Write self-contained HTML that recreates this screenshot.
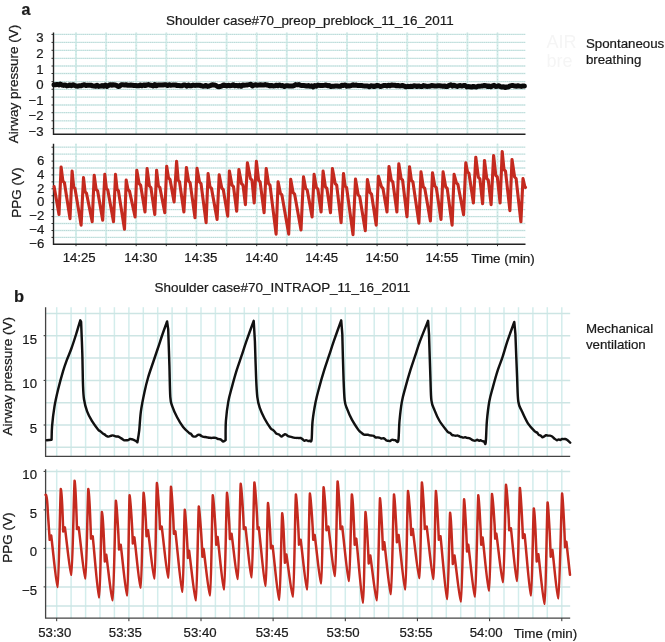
<!DOCTYPE html>
<html><head><meta charset="utf-8"><style>html,body{margin:0;padding:0;background:#fff;width:665px;height:642px;overflow:hidden}body{position:relative;font-family:"Liberation Sans",sans-serif} svg text{stroke:#1a1a1a;stroke-width:0.22px} svg text.g{stroke:none}</style></head>
<body>
<svg width="665" height="642" viewBox="0 0 665 642" style="position:absolute;left:0;top:0;filter:blur(0.3px);font-family:'Liberation Sans',sans-serif" font-family="'Liberation Sans', sans-serif" fill="#1a1a1a">
<line x1="76.0" y1="32.6" x2="76.0" y2="134.2" stroke="#d5efec" stroke-width="2"/>
<line x1="76.0" y1="32.6" x2="76.0" y2="134.2" stroke="#9ab0b0" stroke-width="0.9" stroke-dasharray="0.9 2.2" opacity="0.4"/>
<line x1="106.1" y1="32.6" x2="106.1" y2="134.2" stroke="#d5efec" stroke-width="2"/>
<line x1="106.1" y1="32.6" x2="106.1" y2="134.2" stroke="#9ab0b0" stroke-width="0.9" stroke-dasharray="0.9 2.2" opacity="0.4"/>
<line x1="136.2" y1="32.6" x2="136.2" y2="134.2" stroke="#d5efec" stroke-width="2"/>
<line x1="136.2" y1="32.6" x2="136.2" y2="134.2" stroke="#9ab0b0" stroke-width="0.9" stroke-dasharray="0.9 2.2" opacity="0.4"/>
<line x1="166.3" y1="32.6" x2="166.3" y2="134.2" stroke="#d5efec" stroke-width="2"/>
<line x1="166.3" y1="32.6" x2="166.3" y2="134.2" stroke="#9ab0b0" stroke-width="0.9" stroke-dasharray="0.9 2.2" opacity="0.4"/>
<line x1="196.4" y1="32.6" x2="196.4" y2="134.2" stroke="#d5efec" stroke-width="2"/>
<line x1="196.4" y1="32.6" x2="196.4" y2="134.2" stroke="#9ab0b0" stroke-width="0.9" stroke-dasharray="0.9 2.2" opacity="0.4"/>
<line x1="226.6" y1="32.6" x2="226.6" y2="134.2" stroke="#d5efec" stroke-width="2"/>
<line x1="226.6" y1="32.6" x2="226.6" y2="134.2" stroke="#9ab0b0" stroke-width="0.9" stroke-dasharray="0.9 2.2" opacity="0.4"/>
<line x1="256.7" y1="32.6" x2="256.7" y2="134.2" stroke="#d5efec" stroke-width="2"/>
<line x1="256.7" y1="32.6" x2="256.7" y2="134.2" stroke="#9ab0b0" stroke-width="0.9" stroke-dasharray="0.9 2.2" opacity="0.4"/>
<line x1="286.8" y1="32.6" x2="286.8" y2="134.2" stroke="#d5efec" stroke-width="2"/>
<line x1="286.8" y1="32.6" x2="286.8" y2="134.2" stroke="#9ab0b0" stroke-width="0.9" stroke-dasharray="0.9 2.2" opacity="0.4"/>
<line x1="316.9" y1="32.6" x2="316.9" y2="134.2" stroke="#d5efec" stroke-width="2"/>
<line x1="316.9" y1="32.6" x2="316.9" y2="134.2" stroke="#9ab0b0" stroke-width="0.9" stroke-dasharray="0.9 2.2" opacity="0.4"/>
<line x1="347.0" y1="32.6" x2="347.0" y2="134.2" stroke="#d5efec" stroke-width="2"/>
<line x1="347.0" y1="32.6" x2="347.0" y2="134.2" stroke="#9ab0b0" stroke-width="0.9" stroke-dasharray="0.9 2.2" opacity="0.4"/>
<line x1="377.1" y1="32.6" x2="377.1" y2="134.2" stroke="#d5efec" stroke-width="2"/>
<line x1="377.1" y1="32.6" x2="377.1" y2="134.2" stroke="#9ab0b0" stroke-width="0.9" stroke-dasharray="0.9 2.2" opacity="0.4"/>
<line x1="407.2" y1="32.6" x2="407.2" y2="134.2" stroke="#d5efec" stroke-width="2"/>
<line x1="407.2" y1="32.6" x2="407.2" y2="134.2" stroke="#9ab0b0" stroke-width="0.9" stroke-dasharray="0.9 2.2" opacity="0.4"/>
<line x1="437.3" y1="32.6" x2="437.3" y2="134.2" stroke="#d5efec" stroke-width="2"/>
<line x1="437.3" y1="32.6" x2="437.3" y2="134.2" stroke="#9ab0b0" stroke-width="0.9" stroke-dasharray="0.9 2.2" opacity="0.4"/>
<line x1="467.4" y1="32.6" x2="467.4" y2="134.2" stroke="#d5efec" stroke-width="2"/>
<line x1="467.4" y1="32.6" x2="467.4" y2="134.2" stroke="#9ab0b0" stroke-width="0.9" stroke-dasharray="0.9 2.2" opacity="0.4"/>
<line x1="497.5" y1="32.6" x2="497.5" y2="134.2" stroke="#d5efec" stroke-width="2"/>
<line x1="497.5" y1="32.6" x2="497.5" y2="134.2" stroke="#9ab0b0" stroke-width="0.9" stroke-dasharray="0.9 2.2" opacity="0.4"/>
<line x1="53.5" y1="34.4" x2="525.5" y2="34.4" stroke="#d2edeb" stroke-width="1.3"/>
<line x1="55.5" y1="34.4" x2="525.5" y2="34.4" stroke="#90a8a8" stroke-width="0.9" stroke-dasharray="1 1.1" opacity="0.38"/>
<line x1="51.5" y1="34.4" x2="53.5" y2="34.4" stroke="#333" stroke-width="1"/>
<line x1="53.5" y1="42.4" x2="525.5" y2="42.4" stroke="#d2edeb" stroke-width="1.3"/>
<line x1="55.5" y1="42.4" x2="525.5" y2="42.4" stroke="#90a8a8" stroke-width="0.9" stroke-dasharray="1 1.1" opacity="0.38"/>
<line x1="51.5" y1="42.4" x2="53.5" y2="42.4" stroke="#333" stroke-width="1"/>
<line x1="53.5" y1="50.3" x2="525.5" y2="50.3" stroke="#d2edeb" stroke-width="1.3"/>
<line x1="55.5" y1="50.3" x2="525.5" y2="50.3" stroke="#90a8a8" stroke-width="0.9" stroke-dasharray="1 1.1" opacity="0.38"/>
<line x1="51.5" y1="50.3" x2="53.5" y2="50.3" stroke="#333" stroke-width="1"/>
<line x1="53.5" y1="58.3" x2="525.5" y2="58.3" stroke="#d2edeb" stroke-width="1.3"/>
<line x1="55.5" y1="58.3" x2="525.5" y2="58.3" stroke="#90a8a8" stroke-width="0.9" stroke-dasharray="1 1.1" opacity="0.38"/>
<line x1="51.5" y1="58.3" x2="53.5" y2="58.3" stroke="#333" stroke-width="1"/>
<line x1="53.5" y1="66.0" x2="525.5" y2="66.0" stroke="#d2edeb" stroke-width="1.3"/>
<line x1="55.5" y1="66.0" x2="525.5" y2="66.0" stroke="#90a8a8" stroke-width="0.9" stroke-dasharray="1 1.1" opacity="0.38"/>
<line x1="51.5" y1="66.0" x2="53.5" y2="66.0" stroke="#333" stroke-width="1"/>
<line x1="53.5" y1="73.5" x2="525.5" y2="73.5" stroke="#d2edeb" stroke-width="1.3"/>
<line x1="55.5" y1="73.5" x2="525.5" y2="73.5" stroke="#90a8a8" stroke-width="0.9" stroke-dasharray="1 1.1" opacity="0.38"/>
<line x1="51.5" y1="73.5" x2="53.5" y2="73.5" stroke="#333" stroke-width="1"/>
<line x1="53.5" y1="81.6" x2="525.5" y2="81.6" stroke="#d2edeb" stroke-width="1.3"/>
<line x1="55.5" y1="81.6" x2="525.5" y2="81.6" stroke="#90a8a8" stroke-width="0.9" stroke-dasharray="1 1.1" opacity="0.38"/>
<line x1="51.5" y1="81.6" x2="53.5" y2="81.6" stroke="#333" stroke-width="1"/>
<line x1="53.5" y1="89.3" x2="525.5" y2="89.3" stroke="#d2edeb" stroke-width="1.3"/>
<line x1="55.5" y1="89.3" x2="525.5" y2="89.3" stroke="#90a8a8" stroke-width="0.9" stroke-dasharray="1 1.1" opacity="0.38"/>
<line x1="51.5" y1="89.3" x2="53.5" y2="89.3" stroke="#333" stroke-width="1"/>
<line x1="53.5" y1="97.1" x2="525.5" y2="97.1" stroke="#d2edeb" stroke-width="1.3"/>
<line x1="55.5" y1="97.1" x2="525.5" y2="97.1" stroke="#90a8a8" stroke-width="0.9" stroke-dasharray="1 1.1" opacity="0.38"/>
<line x1="51.5" y1="97.1" x2="53.5" y2="97.1" stroke="#333" stroke-width="1"/>
<line x1="53.5" y1="105.0" x2="525.5" y2="105.0" stroke="#d2edeb" stroke-width="1.3"/>
<line x1="55.5" y1="105.0" x2="525.5" y2="105.0" stroke="#90a8a8" stroke-width="0.9" stroke-dasharray="1 1.1" opacity="0.38"/>
<line x1="51.5" y1="105.0" x2="53.5" y2="105.0" stroke="#333" stroke-width="1"/>
<line x1="53.5" y1="112.7" x2="525.5" y2="112.7" stroke="#d2edeb" stroke-width="1.3"/>
<line x1="55.5" y1="112.7" x2="525.5" y2="112.7" stroke="#90a8a8" stroke-width="0.9" stroke-dasharray="1 1.1" opacity="0.38"/>
<line x1="51.5" y1="112.7" x2="53.5" y2="112.7" stroke="#333" stroke-width="1"/>
<line x1="53.5" y1="120.8" x2="525.5" y2="120.8" stroke="#d2edeb" stroke-width="1.3"/>
<line x1="55.5" y1="120.8" x2="525.5" y2="120.8" stroke="#90a8a8" stroke-width="0.9" stroke-dasharray="1 1.1" opacity="0.38"/>
<line x1="51.5" y1="120.8" x2="53.5" y2="120.8" stroke="#333" stroke-width="1"/>
<line x1="53.5" y1="128.6" x2="525.5" y2="128.6" stroke="#d2edeb" stroke-width="1.3"/>
<line x1="55.5" y1="128.6" x2="525.5" y2="128.6" stroke="#90a8a8" stroke-width="0.9" stroke-dasharray="1 1.1" opacity="0.38"/>
<line x1="51.5" y1="128.6" x2="53.5" y2="128.6" stroke="#333" stroke-width="1"/>
<path d="M53.5,32.6 V134.2 H525.5" fill="none" stroke="#222" stroke-width="1.4"/>
<line x1="76.0" y1="143.7" x2="76.0" y2="244.2" stroke="#d5efec" stroke-width="2"/>
<line x1="76.0" y1="143.7" x2="76.0" y2="244.2" stroke="#9ab0b0" stroke-width="0.9" stroke-dasharray="0.9 2.2" opacity="0.4"/>
<line x1="106.1" y1="143.7" x2="106.1" y2="244.2" stroke="#d5efec" stroke-width="2"/>
<line x1="106.1" y1="143.7" x2="106.1" y2="244.2" stroke="#9ab0b0" stroke-width="0.9" stroke-dasharray="0.9 2.2" opacity="0.4"/>
<line x1="136.2" y1="143.7" x2="136.2" y2="244.2" stroke="#d5efec" stroke-width="2"/>
<line x1="136.2" y1="143.7" x2="136.2" y2="244.2" stroke="#9ab0b0" stroke-width="0.9" stroke-dasharray="0.9 2.2" opacity="0.4"/>
<line x1="166.3" y1="143.7" x2="166.3" y2="244.2" stroke="#d5efec" stroke-width="2"/>
<line x1="166.3" y1="143.7" x2="166.3" y2="244.2" stroke="#9ab0b0" stroke-width="0.9" stroke-dasharray="0.9 2.2" opacity="0.4"/>
<line x1="196.4" y1="143.7" x2="196.4" y2="244.2" stroke="#d5efec" stroke-width="2"/>
<line x1="196.4" y1="143.7" x2="196.4" y2="244.2" stroke="#9ab0b0" stroke-width="0.9" stroke-dasharray="0.9 2.2" opacity="0.4"/>
<line x1="226.6" y1="143.7" x2="226.6" y2="244.2" stroke="#d5efec" stroke-width="2"/>
<line x1="226.6" y1="143.7" x2="226.6" y2="244.2" stroke="#9ab0b0" stroke-width="0.9" stroke-dasharray="0.9 2.2" opacity="0.4"/>
<line x1="256.7" y1="143.7" x2="256.7" y2="244.2" stroke="#d5efec" stroke-width="2"/>
<line x1="256.7" y1="143.7" x2="256.7" y2="244.2" stroke="#9ab0b0" stroke-width="0.9" stroke-dasharray="0.9 2.2" opacity="0.4"/>
<line x1="286.8" y1="143.7" x2="286.8" y2="244.2" stroke="#d5efec" stroke-width="2"/>
<line x1="286.8" y1="143.7" x2="286.8" y2="244.2" stroke="#9ab0b0" stroke-width="0.9" stroke-dasharray="0.9 2.2" opacity="0.4"/>
<line x1="316.9" y1="143.7" x2="316.9" y2="244.2" stroke="#d5efec" stroke-width="2"/>
<line x1="316.9" y1="143.7" x2="316.9" y2="244.2" stroke="#9ab0b0" stroke-width="0.9" stroke-dasharray="0.9 2.2" opacity="0.4"/>
<line x1="347.0" y1="143.7" x2="347.0" y2="244.2" stroke="#d5efec" stroke-width="2"/>
<line x1="347.0" y1="143.7" x2="347.0" y2="244.2" stroke="#9ab0b0" stroke-width="0.9" stroke-dasharray="0.9 2.2" opacity="0.4"/>
<line x1="377.1" y1="143.7" x2="377.1" y2="244.2" stroke="#d5efec" stroke-width="2"/>
<line x1="377.1" y1="143.7" x2="377.1" y2="244.2" stroke="#9ab0b0" stroke-width="0.9" stroke-dasharray="0.9 2.2" opacity="0.4"/>
<line x1="407.2" y1="143.7" x2="407.2" y2="244.2" stroke="#d5efec" stroke-width="2"/>
<line x1="407.2" y1="143.7" x2="407.2" y2="244.2" stroke="#9ab0b0" stroke-width="0.9" stroke-dasharray="0.9 2.2" opacity="0.4"/>
<line x1="437.3" y1="143.7" x2="437.3" y2="244.2" stroke="#d5efec" stroke-width="2"/>
<line x1="437.3" y1="143.7" x2="437.3" y2="244.2" stroke="#9ab0b0" stroke-width="0.9" stroke-dasharray="0.9 2.2" opacity="0.4"/>
<line x1="467.4" y1="143.7" x2="467.4" y2="244.2" stroke="#d5efec" stroke-width="2"/>
<line x1="467.4" y1="143.7" x2="467.4" y2="244.2" stroke="#9ab0b0" stroke-width="0.9" stroke-dasharray="0.9 2.2" opacity="0.4"/>
<line x1="497.5" y1="143.7" x2="497.5" y2="244.2" stroke="#d5efec" stroke-width="2"/>
<line x1="497.5" y1="143.7" x2="497.5" y2="244.2" stroke="#9ab0b0" stroke-width="0.9" stroke-dasharray="0.9 2.2" opacity="0.4"/>
<line x1="53.5" y1="147.2" x2="525.5" y2="147.2" stroke="#d2edeb" stroke-width="1.3"/>
<line x1="55.5" y1="147.2" x2="525.5" y2="147.2" stroke="#90a8a8" stroke-width="0.9" stroke-dasharray="1 1.1" opacity="0.38"/>
<line x1="51.5" y1="147.2" x2="53.5" y2="147.2" stroke="#333" stroke-width="1"/>
<line x1="53.5" y1="154.1" x2="525.5" y2="154.1" stroke="#d2edeb" stroke-width="1.3"/>
<line x1="55.5" y1="154.1" x2="525.5" y2="154.1" stroke="#90a8a8" stroke-width="0.9" stroke-dasharray="1 1.1" opacity="0.38"/>
<line x1="51.5" y1="154.1" x2="53.5" y2="154.1" stroke="#333" stroke-width="1"/>
<line x1="53.5" y1="161.1" x2="525.5" y2="161.1" stroke="#d2edeb" stroke-width="1.3"/>
<line x1="55.5" y1="161.1" x2="525.5" y2="161.1" stroke="#90a8a8" stroke-width="0.9" stroke-dasharray="1 1.1" opacity="0.38"/>
<line x1="51.5" y1="161.1" x2="53.5" y2="161.1" stroke="#333" stroke-width="1"/>
<line x1="53.5" y1="168.0" x2="525.5" y2="168.0" stroke="#d2edeb" stroke-width="1.3"/>
<line x1="55.5" y1="168.0" x2="525.5" y2="168.0" stroke="#90a8a8" stroke-width="0.9" stroke-dasharray="1 1.1" opacity="0.38"/>
<line x1="51.5" y1="168.0" x2="53.5" y2="168.0" stroke="#333" stroke-width="1"/>
<line x1="53.5" y1="174.9" x2="525.5" y2="174.9" stroke="#d2edeb" stroke-width="1.3"/>
<line x1="55.5" y1="174.9" x2="525.5" y2="174.9" stroke="#90a8a8" stroke-width="0.9" stroke-dasharray="1 1.1" opacity="0.38"/>
<line x1="51.5" y1="174.9" x2="53.5" y2="174.9" stroke="#333" stroke-width="1"/>
<line x1="53.5" y1="181.9" x2="525.5" y2="181.9" stroke="#d2edeb" stroke-width="1.3"/>
<line x1="55.5" y1="181.9" x2="525.5" y2="181.9" stroke="#90a8a8" stroke-width="0.9" stroke-dasharray="1 1.1" opacity="0.38"/>
<line x1="51.5" y1="181.9" x2="53.5" y2="181.9" stroke="#333" stroke-width="1"/>
<line x1="53.5" y1="188.8" x2="525.5" y2="188.8" stroke="#d2edeb" stroke-width="1.3"/>
<line x1="55.5" y1="188.8" x2="525.5" y2="188.8" stroke="#90a8a8" stroke-width="0.9" stroke-dasharray="1 1.1" opacity="0.38"/>
<line x1="51.5" y1="188.8" x2="53.5" y2="188.8" stroke="#333" stroke-width="1"/>
<line x1="53.5" y1="195.8" x2="525.5" y2="195.8" stroke="#d2edeb" stroke-width="1.3"/>
<line x1="55.5" y1="195.8" x2="525.5" y2="195.8" stroke="#90a8a8" stroke-width="0.9" stroke-dasharray="1 1.1" opacity="0.38"/>
<line x1="51.5" y1="195.8" x2="53.5" y2="195.8" stroke="#333" stroke-width="1"/>
<line x1="53.5" y1="202.7" x2="525.5" y2="202.7" stroke="#d2edeb" stroke-width="1.3"/>
<line x1="55.5" y1="202.7" x2="525.5" y2="202.7" stroke="#90a8a8" stroke-width="0.9" stroke-dasharray="1 1.1" opacity="0.38"/>
<line x1="51.5" y1="202.7" x2="53.5" y2="202.7" stroke="#333" stroke-width="1"/>
<line x1="53.5" y1="209.6" x2="525.5" y2="209.6" stroke="#d2edeb" stroke-width="1.3"/>
<line x1="55.5" y1="209.6" x2="525.5" y2="209.6" stroke="#90a8a8" stroke-width="0.9" stroke-dasharray="1 1.1" opacity="0.38"/>
<line x1="51.5" y1="209.6" x2="53.5" y2="209.6" stroke="#333" stroke-width="1"/>
<line x1="53.5" y1="216.6" x2="525.5" y2="216.6" stroke="#d2edeb" stroke-width="1.3"/>
<line x1="55.5" y1="216.6" x2="525.5" y2="216.6" stroke="#90a8a8" stroke-width="0.9" stroke-dasharray="1 1.1" opacity="0.38"/>
<line x1="51.5" y1="216.6" x2="53.5" y2="216.6" stroke="#333" stroke-width="1"/>
<line x1="53.5" y1="223.5" x2="525.5" y2="223.5" stroke="#d2edeb" stroke-width="1.3"/>
<line x1="55.5" y1="223.5" x2="525.5" y2="223.5" stroke="#90a8a8" stroke-width="0.9" stroke-dasharray="1 1.1" opacity="0.38"/>
<line x1="51.5" y1="223.5" x2="53.5" y2="223.5" stroke="#333" stroke-width="1"/>
<line x1="53.5" y1="230.5" x2="525.5" y2="230.5" stroke="#d2edeb" stroke-width="1.3"/>
<line x1="55.5" y1="230.5" x2="525.5" y2="230.5" stroke="#90a8a8" stroke-width="0.9" stroke-dasharray="1 1.1" opacity="0.38"/>
<line x1="51.5" y1="230.5" x2="53.5" y2="230.5" stroke="#333" stroke-width="1"/>
<line x1="53.5" y1="237.4" x2="525.5" y2="237.4" stroke="#d2edeb" stroke-width="1.3"/>
<line x1="55.5" y1="237.4" x2="525.5" y2="237.4" stroke="#90a8a8" stroke-width="0.9" stroke-dasharray="1 1.1" opacity="0.38"/>
<line x1="51.5" y1="237.4" x2="53.5" y2="237.4" stroke="#333" stroke-width="1"/>
<line x1="76.0" y1="244.2" x2="76.0" y2="246.2" stroke="#333" stroke-width="1"/>
<line x1="106.1" y1="244.2" x2="106.1" y2="246.2" stroke="#333" stroke-width="1"/>
<line x1="136.2" y1="244.2" x2="136.2" y2="246.2" stroke="#333" stroke-width="1"/>
<line x1="166.3" y1="244.2" x2="166.3" y2="246.2" stroke="#333" stroke-width="1"/>
<line x1="196.4" y1="244.2" x2="196.4" y2="246.2" stroke="#333" stroke-width="1"/>
<line x1="226.6" y1="244.2" x2="226.6" y2="246.2" stroke="#333" stroke-width="1"/>
<line x1="256.7" y1="244.2" x2="256.7" y2="246.2" stroke="#333" stroke-width="1"/>
<line x1="286.8" y1="244.2" x2="286.8" y2="246.2" stroke="#333" stroke-width="1"/>
<line x1="316.9" y1="244.2" x2="316.9" y2="246.2" stroke="#333" stroke-width="1"/>
<line x1="347.0" y1="244.2" x2="347.0" y2="246.2" stroke="#333" stroke-width="1"/>
<line x1="377.1" y1="244.2" x2="377.1" y2="246.2" stroke="#333" stroke-width="1"/>
<line x1="407.2" y1="244.2" x2="407.2" y2="246.2" stroke="#333" stroke-width="1"/>
<line x1="437.3" y1="244.2" x2="437.3" y2="246.2" stroke="#333" stroke-width="1"/>
<line x1="467.4" y1="244.2" x2="467.4" y2="246.2" stroke="#333" stroke-width="1"/>
<line x1="497.5" y1="244.2" x2="497.5" y2="246.2" stroke="#333" stroke-width="1"/>
<path d="M53.5,143.7 V244.2 H525.5" fill="none" stroke="#222" stroke-width="1.4"/>
<text x="21.5" y="15.3" font-size="16" text-anchor="start" font-weight="bold" >a</text>
<text x="166" y="25.3" font-size="13.4" text-anchor="start" font-weight="normal" >Shoulder case#70_preop_preblock_11_16_2011</text>
<text x="43.6" y="42.4" font-size="13.2" text-anchor="end" font-weight="normal" >3</text>
<text x="43.6" y="58.0" font-size="13.2" text-anchor="end" font-weight="normal" >2</text>
<text x="43.6" y="73.6" font-size="13.2" text-anchor="end" font-weight="normal" >1</text>
<text x="43.6" y="89.19999999999999" font-size="13.2" text-anchor="end" font-weight="normal" >0</text>
<text x="43.6" y="104.79999999999998" font-size="13.2" text-anchor="end" font-weight="normal" >−1</text>
<text x="43.6" y="120.39999999999999" font-size="13.2" text-anchor="end" font-weight="normal" >−2</text>
<text x="43.6" y="135.99999999999997" font-size="13.2" text-anchor="end" font-weight="normal" >−3</text>
<text x="44.4" y="165.0" font-size="13.2" text-anchor="end" font-weight="normal" >6</text>
<text x="44.4" y="179.0" font-size="13.2" text-anchor="end" font-weight="normal" >4</text>
<text x="44.4" y="192.6" font-size="13.2" text-anchor="end" font-weight="normal" >2</text>
<text x="44.4" y="205.9" font-size="13.2" text-anchor="end" font-weight="normal" >0</text>
<text x="44.4" y="219.9" font-size="13.2" text-anchor="end" font-weight="normal" >−2</text>
<text x="44.4" y="233.79999999999998" font-size="13.2" text-anchor="end" font-weight="normal" >−4</text>
<text x="44.4" y="247.7" font-size="13.2" text-anchor="end" font-weight="normal" >−6</text>
<text transform="translate(18.1,84.1) rotate(-90)" font-size="13.5" text-anchor="middle">Airway pressure (V)</text>
<text transform="translate(21.0,192.7) rotate(-90)" font-size="13.5" text-anchor="middle">PPG (V)</text>
<text x="79.15" y="261.9" font-size="13.2" text-anchor="middle" font-weight="normal" >14:25</text>
<text x="140.75" y="261.9" font-size="13.2" text-anchor="middle" font-weight="normal" >14:30</text>
<text x="200.85" y="261.9" font-size="13.2" text-anchor="middle" font-weight="normal" >14:35</text>
<text x="261.65" y="261.9" font-size="13.2" text-anchor="middle" font-weight="normal" >14:40</text>
<text x="321.65" y="261.9" font-size="13.2" text-anchor="middle" font-weight="normal" >14:45</text>
<text x="382.1" y="261.9" font-size="13.2" text-anchor="middle" font-weight="normal" >14:50</text>
<text x="441.95" y="261.9" font-size="13.2" text-anchor="middle" font-weight="normal" >14:55</text>
<text x="471.3" y="262.6" font-size="13.4" text-anchor="start" font-weight="normal" >Time (min)</text>
<text class="g" x="546.5" y="48.3" font-size="18" fill="#f5f5f5">AIR</text>
<text class="g" x="546.5" y="66.5" font-size="18" fill="#f5f5f5">bre</text>
<text x="585.9" y="48.0" font-size="13.3" text-anchor="start" font-weight="normal" >Spontaneous</text>
<text x="585.9" y="63.6" font-size="13.3" text-anchor="start" font-weight="normal" >breathing</text>
<line x1="56.7" y1="307.2" x2="56.7" y2="456.3" stroke="#d3edec" stroke-width="1.5"/>
<line x1="71.1" y1="307.2" x2="71.1" y2="456.3" stroke="#d3edec" stroke-width="1.5"/>
<line x1="85.6" y1="307.2" x2="85.6" y2="456.3" stroke="#d3edec" stroke-width="1.5"/>
<line x1="100.0" y1="307.2" x2="100.0" y2="456.3" stroke="#d3edec" stroke-width="1.5"/>
<line x1="114.4" y1="307.2" x2="114.4" y2="456.3" stroke="#d3edec" stroke-width="1.5"/>
<line x1="128.9" y1="307.2" x2="128.9" y2="456.3" stroke="#d3edec" stroke-width="1.5"/>
<line x1="143.3" y1="307.2" x2="143.3" y2="456.3" stroke="#d3edec" stroke-width="1.5"/>
<line x1="157.7" y1="307.2" x2="157.7" y2="456.3" stroke="#d3edec" stroke-width="1.5"/>
<line x1="172.1" y1="307.2" x2="172.1" y2="456.3" stroke="#d3edec" stroke-width="1.5"/>
<line x1="186.6" y1="307.2" x2="186.6" y2="456.3" stroke="#d3edec" stroke-width="1.5"/>
<line x1="201.0" y1="307.2" x2="201.0" y2="456.3" stroke="#d3edec" stroke-width="1.5"/>
<line x1="215.4" y1="307.2" x2="215.4" y2="456.3" stroke="#d3edec" stroke-width="1.5"/>
<line x1="229.9" y1="307.2" x2="229.9" y2="456.3" stroke="#d3edec" stroke-width="1.5"/>
<line x1="244.3" y1="307.2" x2="244.3" y2="456.3" stroke="#d3edec" stroke-width="1.5"/>
<line x1="258.7" y1="307.2" x2="258.7" y2="456.3" stroke="#d3edec" stroke-width="1.5"/>
<line x1="273.1" y1="307.2" x2="273.1" y2="456.3" stroke="#d3edec" stroke-width="1.5"/>
<line x1="287.6" y1="307.2" x2="287.6" y2="456.3" stroke="#d3edec" stroke-width="1.5"/>
<line x1="302.0" y1="307.2" x2="302.0" y2="456.3" stroke="#d3edec" stroke-width="1.5"/>
<line x1="316.4" y1="307.2" x2="316.4" y2="456.3" stroke="#d3edec" stroke-width="1.5"/>
<line x1="330.9" y1="307.2" x2="330.9" y2="456.3" stroke="#d3edec" stroke-width="1.5"/>
<line x1="345.3" y1="307.2" x2="345.3" y2="456.3" stroke="#d3edec" stroke-width="1.5"/>
<line x1="359.7" y1="307.2" x2="359.7" y2="456.3" stroke="#d3edec" stroke-width="1.5"/>
<line x1="374.2" y1="307.2" x2="374.2" y2="456.3" stroke="#d3edec" stroke-width="1.5"/>
<line x1="388.6" y1="307.2" x2="388.6" y2="456.3" stroke="#d3edec" stroke-width="1.5"/>
<line x1="403.0" y1="307.2" x2="403.0" y2="456.3" stroke="#d3edec" stroke-width="1.5"/>
<line x1="417.4" y1="307.2" x2="417.4" y2="456.3" stroke="#d3edec" stroke-width="1.5"/>
<line x1="431.9" y1="307.2" x2="431.9" y2="456.3" stroke="#d3edec" stroke-width="1.5"/>
<line x1="446.3" y1="307.2" x2="446.3" y2="456.3" stroke="#d3edec" stroke-width="1.5"/>
<line x1="460.7" y1="307.2" x2="460.7" y2="456.3" stroke="#d3edec" stroke-width="1.5"/>
<line x1="475.2" y1="307.2" x2="475.2" y2="456.3" stroke="#d3edec" stroke-width="1.5"/>
<line x1="489.6" y1="307.2" x2="489.6" y2="456.3" stroke="#d3edec" stroke-width="1.5"/>
<line x1="504.0" y1="307.2" x2="504.0" y2="456.3" stroke="#d3edec" stroke-width="1.5"/>
<line x1="518.5" y1="307.2" x2="518.5" y2="456.3" stroke="#d3edec" stroke-width="1.5"/>
<line x1="532.9" y1="307.2" x2="532.9" y2="456.3" stroke="#d3edec" stroke-width="1.5"/>
<line x1="547.3" y1="307.2" x2="547.3" y2="456.3" stroke="#d3edec" stroke-width="1.5"/>
<line x1="561.8" y1="307.2" x2="561.8" y2="456.3" stroke="#d3edec" stroke-width="1.5"/>
<line x1="45.6" y1="313.4" x2="570.2" y2="313.4" stroke="#cde5e4" stroke-width="1.5"/>
<line x1="45.6" y1="335.7" x2="570.2" y2="335.7" stroke="#cde5e4" stroke-width="1.5"/>
<line x1="45.6" y1="358.0" x2="570.2" y2="358.0" stroke="#cde5e4" stroke-width="1.5"/>
<line x1="45.6" y1="380.4" x2="570.2" y2="380.4" stroke="#cde5e4" stroke-width="1.5"/>
<line x1="45.6" y1="402.7" x2="570.2" y2="402.7" stroke="#cde5e4" stroke-width="1.5"/>
<line x1="45.6" y1="425.0" x2="570.2" y2="425.0" stroke="#cde5e4" stroke-width="1.5"/>
<line x1="45.6" y1="447.3" x2="570.2" y2="447.3" stroke="#cde5e4" stroke-width="1.5"/>
<line x1="43.6" y1="335.7" x2="45.6" y2="335.7" stroke="#333" stroke-width="1"/>
<line x1="43.6" y1="380.4" x2="45.6" y2="380.4" stroke="#333" stroke-width="1"/>
<line x1="43.6" y1="425.0" x2="45.6" y2="425.0" stroke="#333" stroke-width="1"/>
<path d="M45.6,307.2 V456.3 H570.2" fill="none" stroke="#444" stroke-width="1.3"/>
<line x1="56.7" y1="469.3" x2="56.7" y2="618.2" stroke="#d3edec" stroke-width="1.5"/>
<line x1="71.1" y1="469.3" x2="71.1" y2="618.2" stroke="#d3edec" stroke-width="1.5"/>
<line x1="85.6" y1="469.3" x2="85.6" y2="618.2" stroke="#d3edec" stroke-width="1.5"/>
<line x1="100.0" y1="469.3" x2="100.0" y2="618.2" stroke="#d3edec" stroke-width="1.5"/>
<line x1="114.4" y1="469.3" x2="114.4" y2="618.2" stroke="#d3edec" stroke-width="1.5"/>
<line x1="128.9" y1="469.3" x2="128.9" y2="618.2" stroke="#d3edec" stroke-width="1.5"/>
<line x1="143.3" y1="469.3" x2="143.3" y2="618.2" stroke="#d3edec" stroke-width="1.5"/>
<line x1="157.7" y1="469.3" x2="157.7" y2="618.2" stroke="#d3edec" stroke-width="1.5"/>
<line x1="172.1" y1="469.3" x2="172.1" y2="618.2" stroke="#d3edec" stroke-width="1.5"/>
<line x1="186.6" y1="469.3" x2="186.6" y2="618.2" stroke="#d3edec" stroke-width="1.5"/>
<line x1="201.0" y1="469.3" x2="201.0" y2="618.2" stroke="#d3edec" stroke-width="1.5"/>
<line x1="215.4" y1="469.3" x2="215.4" y2="618.2" stroke="#d3edec" stroke-width="1.5"/>
<line x1="229.9" y1="469.3" x2="229.9" y2="618.2" stroke="#d3edec" stroke-width="1.5"/>
<line x1="244.3" y1="469.3" x2="244.3" y2="618.2" stroke="#d3edec" stroke-width="1.5"/>
<line x1="258.7" y1="469.3" x2="258.7" y2="618.2" stroke="#d3edec" stroke-width="1.5"/>
<line x1="273.1" y1="469.3" x2="273.1" y2="618.2" stroke="#d3edec" stroke-width="1.5"/>
<line x1="287.6" y1="469.3" x2="287.6" y2="618.2" stroke="#d3edec" stroke-width="1.5"/>
<line x1="302.0" y1="469.3" x2="302.0" y2="618.2" stroke="#d3edec" stroke-width="1.5"/>
<line x1="316.4" y1="469.3" x2="316.4" y2="618.2" stroke="#d3edec" stroke-width="1.5"/>
<line x1="330.9" y1="469.3" x2="330.9" y2="618.2" stroke="#d3edec" stroke-width="1.5"/>
<line x1="345.3" y1="469.3" x2="345.3" y2="618.2" stroke="#d3edec" stroke-width="1.5"/>
<line x1="359.7" y1="469.3" x2="359.7" y2="618.2" stroke="#d3edec" stroke-width="1.5"/>
<line x1="374.2" y1="469.3" x2="374.2" y2="618.2" stroke="#d3edec" stroke-width="1.5"/>
<line x1="388.6" y1="469.3" x2="388.6" y2="618.2" stroke="#d3edec" stroke-width="1.5"/>
<line x1="403.0" y1="469.3" x2="403.0" y2="618.2" stroke="#d3edec" stroke-width="1.5"/>
<line x1="417.4" y1="469.3" x2="417.4" y2="618.2" stroke="#d3edec" stroke-width="1.5"/>
<line x1="431.9" y1="469.3" x2="431.9" y2="618.2" stroke="#d3edec" stroke-width="1.5"/>
<line x1="446.3" y1="469.3" x2="446.3" y2="618.2" stroke="#d3edec" stroke-width="1.5"/>
<line x1="460.7" y1="469.3" x2="460.7" y2="618.2" stroke="#d3edec" stroke-width="1.5"/>
<line x1="475.2" y1="469.3" x2="475.2" y2="618.2" stroke="#d3edec" stroke-width="1.5"/>
<line x1="489.6" y1="469.3" x2="489.6" y2="618.2" stroke="#d3edec" stroke-width="1.5"/>
<line x1="504.0" y1="469.3" x2="504.0" y2="618.2" stroke="#d3edec" stroke-width="1.5"/>
<line x1="518.5" y1="469.3" x2="518.5" y2="618.2" stroke="#d3edec" stroke-width="1.5"/>
<line x1="532.9" y1="469.3" x2="532.9" y2="618.2" stroke="#d3edec" stroke-width="1.5"/>
<line x1="547.3" y1="469.3" x2="547.3" y2="618.2" stroke="#d3edec" stroke-width="1.5"/>
<line x1="561.8" y1="469.3" x2="561.8" y2="618.2" stroke="#d3edec" stroke-width="1.5"/>
<line x1="45.6" y1="471.4" x2="570.2" y2="471.4" stroke="#cde5e4" stroke-width="1.5"/>
<line x1="45.6" y1="490.7" x2="570.2" y2="490.7" stroke="#cde5e4" stroke-width="1.5"/>
<line x1="45.6" y1="509.9" x2="570.2" y2="509.9" stroke="#cde5e4" stroke-width="1.5"/>
<line x1="45.6" y1="529.2" x2="570.2" y2="529.2" stroke="#cde5e4" stroke-width="1.5"/>
<line x1="45.6" y1="548.4" x2="570.2" y2="548.4" stroke="#cde5e4" stroke-width="1.5"/>
<line x1="45.6" y1="567.6" x2="570.2" y2="567.6" stroke="#cde5e4" stroke-width="1.5"/>
<line x1="45.6" y1="586.9" x2="570.2" y2="586.9" stroke="#cde5e4" stroke-width="1.5"/>
<line x1="45.6" y1="606.1" x2="570.2" y2="606.1" stroke="#cde5e4" stroke-width="1.5"/>
<line x1="43.6" y1="471.4" x2="45.6" y2="471.4" stroke="#333" stroke-width="1"/>
<line x1="43.6" y1="509.9" x2="45.6" y2="509.9" stroke="#333" stroke-width="1"/>
<line x1="43.6" y1="548.4" x2="45.6" y2="548.4" stroke="#333" stroke-width="1"/>
<line x1="43.6" y1="586.9" x2="45.6" y2="586.9" stroke="#333" stroke-width="1"/>
<path d="M45.6,469.3 V618.2 H570.2" fill="none" stroke="#444" stroke-width="1.3"/>
<line x1="56.7" y1="618.2" x2="56.7" y2="621.2" stroke="#333" stroke-width="1"/>
<line x1="128.9" y1="618.2" x2="128.9" y2="621.2" stroke="#333" stroke-width="1"/>
<line x1="201.0" y1="618.2" x2="201.0" y2="621.2" stroke="#333" stroke-width="1"/>
<line x1="273.1" y1="618.2" x2="273.1" y2="621.2" stroke="#333" stroke-width="1"/>
<line x1="345.3" y1="618.2" x2="345.3" y2="621.2" stroke="#333" stroke-width="1"/>
<line x1="417.4" y1="618.2" x2="417.4" y2="621.2" stroke="#333" stroke-width="1"/>
<line x1="489.6" y1="618.2" x2="489.6" y2="621.2" stroke="#333" stroke-width="1"/>
<line x1="561.8" y1="618.2" x2="561.8" y2="621.2" stroke="#333" stroke-width="1"/>
<text x="14" y="302" font-size="16.5" text-anchor="start" font-weight="bold" >b</text>
<text x="154.6" y="291.8" font-size="13.45" text-anchor="start" font-weight="normal" >Shoulder case#70_INTRAOP_11_16_2011</text>
<text x="37" y="343.5175" font-size="13.2" text-anchor="end" font-weight="normal" >15</text>
<text x="37" y="388.1525" font-size="13.2" text-anchor="end" font-weight="normal" >10</text>
<text x="37" y="432.78749999999997" font-size="13.2" text-anchor="end" font-weight="normal" >5</text>
<text x="37" y="479.22999999999996" font-size="13.2" text-anchor="end" font-weight="normal" >10</text>
<text x="37" y="517.715" font-size="13.2" text-anchor="end" font-weight="normal" >5</text>
<text x="37" y="556.2" font-size="13.2" text-anchor="end" font-weight="normal" >0</text>
<text x="37" y="594.6850000000001" font-size="13.2" text-anchor="end" font-weight="normal" >−5</text>
<text transform="translate(12,376.2) rotate(-90)" font-size="13.5" text-anchor="middle">Airway pressure (V)</text>
<text transform="translate(12,537.6) rotate(-90)" font-size="13.5" text-anchor="middle">PPG (V)</text>
<text x="54.8" y="636.8" font-size="13.2" text-anchor="middle" font-weight="normal" >53:30</text>
<text x="125.35" y="636.8" font-size="13.2" text-anchor="middle" font-weight="normal" >53:35</text>
<text x="200.1" y="636.8" font-size="13.2" text-anchor="middle" font-weight="normal" >53:40</text>
<text x="272.15" y="636.8" font-size="13.2" text-anchor="middle" font-weight="normal" >53:45</text>
<text x="343.1" y="636.8" font-size="13.2" text-anchor="middle" font-weight="normal" >53:50</text>
<text x="416.1" y="636.8" font-size="13.2" text-anchor="middle" font-weight="normal" >53:55</text>
<text x="486.2" y="636.8" font-size="13.2" text-anchor="middle" font-weight="normal" >54:00</text>
<text x="513.7" y="638.2" font-size="13.4" text-anchor="start" font-weight="normal" >Time (min)</text>
<text x="585.9" y="332.8" font-size="13.3" text-anchor="start" font-weight="normal" >Mechanical</text>
<text x="585.9" y="348.9" font-size="13.3" text-anchor="start" font-weight="normal" >ventilation</text>
<path d="M54.0,84.8 L55.6,84.8 L57.2,84.4 L58.8,84.9 L60.4,84.1 L62.0,85.0 L63.6,85.4 L65.2,85.0 L66.8,85.9 L68.4,85.6 L70.0,84.9 L71.6,85.7 L73.2,84.7 L74.8,85.5 L76.4,86.1 L78.0,86.2 L79.6,85.7 L81.2,85.8 L82.8,85.1 L84.4,84.7 L86.0,85.5 L87.6,85.3 L89.2,85.3 L90.8,85.3 L92.4,85.7 L94.0,85.9 L95.6,86.2 L97.2,85.3 L98.8,86.4 L100.4,86.1 L102.0,85.6 L103.6,86.2 L105.2,85.0 L106.8,86.4 L108.4,85.6 L110.0,84.7 L111.6,85.2 L113.2,84.8 L114.8,84.9 L116.4,85.4 L118.0,86.4 L119.6,86.2 L121.2,84.8 L122.8,84.8 L124.4,84.9 L126.0,84.8 L127.6,85.2 L129.2,85.2 L130.8,85.1 L132.4,85.2 L134.0,85.5 L135.6,85.5 L137.2,85.8 L138.8,85.8 L140.4,84.9 L142.0,85.7 L143.6,85.0 L145.2,85.5 L146.8,85.0 L148.4,84.6 L150.0,85.2 L151.6,85.3 L153.2,85.9 L154.8,84.5 L156.4,85.8 L158.0,85.0 L159.6,85.0 L161.2,84.9 L162.8,85.1 L164.4,84.8 L166.0,84.7 L167.6,85.6 L169.2,84.8 L170.8,85.2 L172.4,85.1 L174.0,84.9 L175.6,85.0 L177.2,85.5 L178.8,85.5 L180.4,85.7 L182.0,85.8 L183.6,85.0 L185.2,85.1 L186.8,86.1 L188.4,85.0 L190.0,85.8 L191.6,85.7 L193.2,85.1 L194.8,85.4 L196.4,85.3 L198.0,85.2 L199.6,85.3 L201.2,85.7 L202.8,86.2 L204.4,86.0 L206.0,85.5 L207.6,86.4 L209.2,86.0 L210.8,85.4 L212.4,84.7 L214.0,85.1 L215.6,85.2 L217.2,86.3 L218.8,86.8 L220.4,86.5 L222.0,85.9 L223.6,85.0 L225.2,85.5 L226.8,85.9 L228.4,85.3 L230.0,85.7 L231.6,85.6 L233.2,84.8 L234.8,85.7 L236.4,85.4 L238.0,86.0 L239.6,85.3 L241.2,86.3 L242.8,85.0 L244.4,85.2 L246.0,85.1 L247.6,84.9 L249.2,84.6 L250.8,84.3 L252.4,85.9 L254.0,85.1 L255.6,84.8 L257.2,85.2 L258.8,85.1 L260.4,84.8 L262.0,84.9 L263.6,85.1 L265.2,84.5 L266.8,85.1 L268.4,85.3 L270.0,85.9 L271.6,85.5 L273.2,85.9 L274.8,85.8 L276.4,85.2 L278.0,85.8 L279.6,85.0 L281.2,85.7 L282.8,85.6 L284.4,86.5 L286.0,85.7 L287.6,85.7 L289.2,86.0 L290.8,86.1 L292.4,86.1 L294.0,85.6 L295.6,84.6 L297.2,84.9 L298.8,84.6 L300.4,85.3 L302.0,85.6 L303.6,85.4 L305.2,85.7 L306.8,86.0 L308.4,85.6 L310.0,86.3 L311.6,85.8 L313.2,86.9 L314.8,85.5 L316.4,86.2 L318.0,85.1 L319.6,85.4 L321.2,85.5 L322.8,85.4 L324.4,85.3 L326.0,85.1 L327.6,85.7 L329.2,85.6 L330.8,86.4 L332.4,86.2 L334.0,86.2 L335.6,85.9 L337.2,86.0 L338.8,86.2 L340.4,86.2 L342.0,85.3 L343.6,85.4 L345.2,85.0 L346.8,86.2 L348.4,85.7 L350.0,85.9 L351.6,85.4 L353.2,84.8 L354.8,85.3 L356.4,85.1 L358.0,85.6 L359.6,85.6 L361.2,85.4 L362.8,85.8 L364.4,85.9 L366.0,86.1 L367.6,86.0 L369.2,86.8 L370.8,85.8 L372.4,86.0 L374.0,86.5 L375.6,86.0 L377.2,85.5 L378.8,85.8 L380.4,86.5 L382.0,86.1 L383.6,85.5 L385.2,85.4 L386.8,85.9 L388.4,85.2 L390.0,85.8 L391.6,85.0 L393.2,85.3 L394.8,85.3 L396.4,85.7 L398.0,85.5 L399.6,85.9 L401.2,85.8 L402.8,85.4 L404.4,86.2 L406.0,86.8 L407.6,86.3 L409.2,86.6 L410.8,86.2 L412.4,86.6 L414.0,85.8 L415.6,86.0 L417.2,86.5 L418.8,85.9 L420.4,86.5 L422.0,86.4 L423.6,85.6 L425.2,86.0 L426.8,86.4 L428.4,86.3 L430.0,86.2 L431.6,85.6 L433.2,85.8 L434.8,86.0 L436.4,86.0 L438.0,85.8 L439.6,85.7 L441.2,85.9 L442.8,86.2 L444.4,86.0 L446.0,86.5 L447.6,86.4 L449.2,85.3 L450.8,84.8 L452.4,86.1 L454.0,85.2 L455.6,85.9 L457.2,86.4 L458.8,85.7 L460.4,85.6 L462.0,86.1 L463.6,85.5 L465.2,85.6 L466.8,86.9 L468.4,86.6 L470.0,86.7 L471.6,87.1 L473.2,86.4 L474.8,86.8 L476.4,87.0 L478.0,86.3 L479.6,86.2 L481.2,86.1 L482.8,85.9 L484.4,85.5 L486.0,85.7 L487.6,86.5 L489.2,86.0 L490.8,86.8 L492.4,85.8 L494.0,85.3 L495.6,86.4 L497.2,86.3 L498.8,85.7 L500.4,86.6 L502.0,87.1 L503.6,86.7 L505.2,87.5 L506.8,87.0 L508.4,87.0 L510.0,85.9 L511.6,85.6 L513.2,85.6 L514.8,86.1 L516.4,86.2 L518.0,85.8 L519.6,86.1 L521.2,86.4 L522.8,86.0 L524.4,86.1" fill="none" stroke="#0a0a0a" stroke-width="5" stroke-linejoin="round" stroke-linecap="round"/>
<path d="M54.1,186.6 L59.0,214.5 L61.1,167.0 L62.9,181.1 L64.4,182.6 L70.0,218.6 L72.1,171.1 L73.7,186.9 L75.0,188.4 L81.1,225.1 L83.5,177.6 L85.1,191.8 L86.5,193.3 L92.2,221.8 L94.2,175.2 L96.1,189.3 L97.6,190.8 L102.7,220.2 L104.8,174.4 L106.4,188.5 L107.8,190.0 L113.5,221.8 L115.5,174.4 L117.1,189.3 L118.4,190.8 L124.5,229.2 L126.2,180.1 L128.0,189.7 L129.5,191.2 L135.1,216.9 L136.8,170.3 L139.1,183.6 L140.6,185.1 L145.0,212.0 L147.1,168.6 L149.4,186.0 L150.9,187.5 L154.8,214.5 L156.6,170.3 L158.4,186.0 L159.9,187.5 L164.8,212.8 L166.7,166.2 L168.5,177.9 L170.0,179.4 L174.1,201.9 L176.6,161.3 L178.2,180.3 L179.5,181.8 L183.9,212.0 L186.4,167.5 L188.6,181.1 L190.1,182.6 L195.0,217.7 L197.0,168.4 L199.5,182.0 L201.0,183.5 L206.1,222.6 L208.1,173.6 L210.0,186.9 L211.5,188.4 L217.1,219.4 L219.2,174.7 L221.8,188.2 L223.3,189.7 L227.7,216.1 L229.4,171.1 L232.0,185.2 L233.5,186.7 L236.7,211.2 L238.9,169.5 L241.5,183.6 L243.0,185.1 L245.4,204.6 L247.4,162.9 L250.5,178.7 L252.0,180.2 L254.2,203.0 L256.4,161.3 L258.6,180.3 L260.1,181.8 L264.1,212.8 L266.2,168.6 L268.5,183.6 L270.0,185.1 L276.1,234.1 L278.1,181.7 L280.4,193.4 L281.9,194.9 L288.7,234.1 L290.7,179.3 L293.1,192.6 L294.6,194.1 L301.0,230.0 L303.5,176.8 L305.7,188.5 L307.2,190.0 L312.1,216.9 L314.1,174.4 L316.4,187.7 L317.9,189.2 L321.1,212.0 L323.1,171.1 L325.4,186.9 L326.9,188.4 L330.5,212.8 L332.4,168.6 L335.2,183.6 L336.7,185.1 L341.1,222.6 L343.5,173.6 L345.1,186.0 L346.6,187.5 L353.0,234.6 L355.5,179.0 L358.2,195.0 L359.7,196.5 L365.3,230.8 L367.4,179.6 L370.0,192.6 L371.5,194.1 L376.2,225.1 L378.4,176.3 L381.5,186.9 L383.0,188.4 L387.0,212.0 L389.0,166.5 L391.3,180.3 L392.8,181.8 L396.9,212.0 L398.8,163.7 L401.1,178.7 L402.6,180.2 L407.0,216.7 L409.5,166.7 L411.4,180.3 L412.9,181.8 L418.9,223.1 L421.0,171.9 L423.3,186.9 L424.8,188.4 L430.4,221.0 L432.5,172.7 L434.8,186.0 L436.3,187.5 L441.0,219.4 L443.1,171.9 L445.7,186.9 L447.2,188.4 L452.1,225.1 L454.1,174.4 L456.4,182.8 L457.9,184.3 L463.6,214.7 L465.8,162.9 L467.5,171.9 L469.0,173.4 L473.4,203.0 L475.8,157.2 L478.4,177.4 L479.9,178.9 L482.6,203.8 L484.5,160.5 L486.8,178.7 L488.3,180.2 L491.1,204.6 L493.6,155.5 L495.8,175.4 L497.3,176.9 L500.1,203.0 L502.2,151.5 L504.0,169.7 L505.5,171.2 L509.9,210.7 L512.0,159.6 L514.6,177.0 L516.1,178.5 L520.9,221.8 L523.0,178.5 L524.8,186.5 L525.5,187.5" fill="none" stroke="#c42a1f" stroke-width="3.1" stroke-linejoin="round" stroke-linecap="round"/>
<path d="M46.80,440.30 C47.60,440.22 50.80,439.88 51.60,439.80 C51.68,437.47 51.62,431.37 52.10,425.80 C52.58,420.23 53.50,412.45 54.50,406.40 C55.50,400.35 56.68,395.33 58.10,389.50 C59.52,383.67 61.58,376.22 63.00,371.40 C64.42,366.58 65.20,364.42 66.60,360.60 C68.00,356.78 69.80,352.93 71.40,348.50 C73.00,344.07 74.72,338.70 76.20,334.00 C77.68,329.30 79.62,322.58 80.30,320.30 C80.43,320.55 80.97,321.55 81.10,321.80 C81.30,327.05 81.98,342.82 82.30,353.30 C82.62,363.78 82.72,377.05 83.00,384.70 C83.28,392.35 83.32,394.77 84.00,399.20 C84.68,403.63 85.78,407.68 87.10,411.30 C88.42,414.92 90.08,417.88 91.90,420.90 C93.72,423.92 96.58,427.65 98.00,429.40 C99.42,431.15 99.60,430.70 100.40,431.38 C101.20,432.07 102.07,432.96 102.80,433.50 C103.53,434.04 104.13,434.17 104.80,434.62 C105.47,435.06 106.13,435.83 106.80,436.16 C107.47,436.49 108.16,436.63 108.80,436.60 C109.44,436.57 110.03,436.15 110.65,435.95 C111.27,435.75 111.89,435.41 112.50,435.40 C113.11,435.39 113.70,435.72 114.30,435.91 C114.90,436.10 115.50,436.43 116.10,436.52 C116.70,436.61 117.30,436.31 117.90,436.46 C118.50,436.60 119.00,437.00 119.70,437.40 C120.40,437.80 121.30,438.38 122.10,438.87 C122.90,439.35 123.80,440.07 124.50,440.30 C125.20,440.53 125.72,440.25 126.33,440.23 C126.93,440.22 127.54,440.42 128.15,440.21 C128.76,440.00 129.37,439.13 129.98,438.98 C130.58,438.83 131.10,439.11 131.80,439.30 C132.50,439.49 133.40,439.76 134.20,440.12 C135.00,440.49 136.07,441.14 136.60,441.50 C137.13,441.86 137.27,442.17 137.40,442.30 C137.70,440.35 138.62,435.77 139.20,430.60 C139.78,425.43 140.02,417.73 140.90,411.30 C141.78,404.87 143.30,397.63 144.50,392.00 C145.70,386.37 146.70,382.33 148.10,377.50 C149.50,372.67 151.28,367.83 152.90,363.00 C154.52,358.17 156.18,353.33 157.80,348.50 C159.42,343.67 161.05,338.50 162.60,334.00 C164.15,329.50 166.35,323.58 167.10,321.50 C167.28,322.78 168.02,327.92 168.20,329.20 C168.40,335.23 169.05,354.13 169.40,365.40 C169.75,376.67 169.82,389.97 170.30,396.80 C170.78,403.63 171.17,402.98 172.30,406.40 C173.43,409.82 175.30,413.87 177.10,417.30 C178.90,420.73 181.08,424.38 183.10,427.00 C185.12,429.62 187.92,431.90 189.20,433.00 C190.48,434.10 190.27,433.15 190.80,433.63 C191.33,434.10 191.87,435.34 192.40,435.83 C192.93,436.33 193.40,436.52 194.00,436.60 C194.60,436.68 195.33,436.62 196.00,436.34 C196.67,436.05 197.33,435.11 198.00,434.89 C198.67,434.67 199.36,434.77 200.00,435.00 C200.64,435.23 201.22,435.97 201.82,436.28 C202.43,436.58 203.04,436.73 203.65,436.85 C204.26,436.97 204.87,436.92 205.48,437.02 C206.08,437.11 206.60,437.27 207.30,437.40 C208.00,437.53 208.90,437.73 209.70,437.81 C210.50,437.90 211.40,437.92 212.10,437.90 C212.80,437.88 213.32,437.73 213.93,437.72 C214.53,437.71 215.14,437.63 215.75,437.82 C216.36,438.01 216.97,438.63 217.57,438.84 C218.18,439.05 218.80,438.96 219.40,439.10 C220.00,439.24 220.60,439.28 221.20,439.68 C221.80,440.08 222.30,441.40 223.00,441.50 C223.70,441.60 224.97,440.58 225.40,440.30 C225.83,440.02 225.57,439.88 225.60,439.80 C225.65,436.67 225.45,427.37 225.90,421.00 C226.35,414.63 227.30,407.25 228.30,401.60 C229.30,395.95 230.50,392.33 231.90,387.10 C233.30,381.87 235.08,375.43 236.70,370.20 C238.32,364.97 239.98,360.53 241.60,355.70 C243.22,350.87 244.38,347.02 246.40,341.20 C248.42,335.38 252.48,324.20 253.70,320.80 C253.90,324.20 254.70,337.80 254.90,341.20 C255.10,347.25 255.70,368.23 256.10,377.50 C256.50,386.77 256.70,391.77 257.30,396.80 C257.90,401.83 258.50,404.08 259.70,407.70 C260.90,411.32 262.68,415.08 264.50,418.50 C266.32,421.92 269.25,426.35 270.60,428.20 C271.95,430.05 271.93,429.05 272.60,429.60 C273.27,430.15 273.93,430.82 274.60,431.51 C275.27,432.19 275.87,433.20 276.60,433.70 C277.33,434.20 278.20,434.01 279.00,434.49 C279.80,434.98 280.70,436.46 281.40,436.60 C282.10,436.74 282.60,435.75 283.20,435.35 C283.80,434.95 284.43,434.27 285.00,434.20 C285.57,434.13 286.09,434.57 286.63,434.92 C287.18,435.26 287.72,436.00 288.27,436.28 C288.81,436.56 289.29,436.47 289.90,436.60 C290.51,436.73 291.23,436.88 291.90,437.06 C292.57,437.24 293.23,437.52 293.90,437.66 C294.57,437.80 295.30,437.86 295.90,437.90 C296.50,437.94 296.97,437.86 297.50,437.90 C298.03,437.94 298.57,438.13 299.10,438.13 C299.63,438.13 300.12,437.71 300.70,437.90 C301.27,438.09 301.93,438.77 302.55,439.24 C303.17,439.71 303.79,440.55 304.40,440.70 C305.01,440.85 305.60,440.12 306.20,440.16 C306.80,440.21 307.40,440.85 308.00,440.95 C308.60,441.04 309.20,440.91 309.80,440.72 C310.40,440.53 311.13,443.09 311.60,439.80 C312.07,436.51 311.92,427.37 312.60,421.00 C313.28,414.63 314.58,407.25 315.70,401.60 C316.82,395.95 317.88,392.33 319.30,387.10 C320.72,381.87 322.58,375.43 324.20,370.20 C325.82,364.97 327.40,360.53 329.00,355.70 C330.60,350.87 331.77,347.10 333.80,341.20 C335.83,335.30 339.97,323.78 341.20,320.30 C341.38,322.58 342.12,331.72 342.30,334.00 C342.50,341.25 343.10,366.43 343.50,377.50 C343.90,388.57 344.10,395.17 344.70,400.40 C345.30,405.63 345.90,405.68 347.10,408.90 C348.30,412.12 350.08,416.28 351.90,419.70 C353.72,423.12 356.65,427.41 358.00,429.40 C359.35,431.39 359.33,431.01 360.00,431.64 C360.67,432.28 361.33,432.71 362.00,433.22 C362.67,433.73 363.33,434.46 364.00,434.70 C364.67,434.94 365.33,434.66 366.00,434.67 C366.67,434.69 367.33,434.67 368.00,434.79 C368.67,434.91 369.36,435.26 370.00,435.40 C370.64,435.54 371.22,435.54 371.82,435.60 C372.43,435.67 373.04,435.52 373.65,435.80 C374.26,436.08 374.87,437.01 375.48,437.27 C376.08,437.54 376.66,437.35 377.30,437.40 C377.94,437.45 378.63,437.38 379.30,437.56 C379.97,437.74 380.63,438.36 381.30,438.49 C381.97,438.61 382.69,438.22 383.30,438.30 C383.91,438.38 384.39,438.57 384.93,438.94 C385.48,439.31 386.02,440.25 386.57,440.54 C387.11,440.83 387.63,440.61 388.20,440.70 C388.77,440.79 389.40,441.24 390.00,441.09 C390.60,440.94 391.20,439.98 391.80,439.80 C392.40,439.62 393.00,439.91 393.60,439.99 C394.20,440.08 394.62,440.18 395.40,440.30 C396.18,440.42 397.62,443.92 398.30,440.70 C398.98,437.48 398.90,427.52 399.50,421.00 C400.10,414.48 400.90,407.25 401.90,401.60 C402.90,395.95 404.08,392.33 405.50,387.10 C406.92,381.87 408.78,375.43 410.40,370.20 C412.02,364.97 413.60,360.53 415.20,355.70 C416.80,350.87 417.85,347.02 420.00,341.20 C422.15,335.38 426.75,324.20 428.10,320.80 C428.25,323.00 428.85,331.80 429.00,334.00 C429.23,341.25 430.00,366.43 430.40,377.50 C430.80,388.57 430.72,394.97 431.40,400.40 C432.08,405.83 433.18,406.75 434.50,410.10 C435.82,413.45 437.28,417.08 439.30,420.50 C441.32,423.92 445.08,428.62 446.60,430.60 C448.12,432.58 447.80,431.98 448.40,432.37 C449.00,432.77 449.60,432.54 450.20,432.96 C450.80,433.37 451.40,434.47 452.00,434.87 C452.60,435.28 453.16,435.27 453.80,435.40 C454.44,435.53 455.16,435.62 455.83,435.66 C456.51,435.69 457.19,435.44 457.87,435.60 C458.54,435.76 459.26,436.35 459.90,436.60 C460.54,436.85 461.10,436.93 461.70,437.11 C462.30,437.28 462.90,437.62 463.50,437.64 C464.10,437.66 464.70,437.21 465.30,437.25 C465.90,437.30 466.46,437.76 467.10,437.90 C467.74,438.04 468.46,437.89 469.13,438.12 C469.81,438.35 470.49,438.90 471.17,439.27 C471.84,439.63 472.53,440.07 473.20,440.30 C473.87,440.53 474.53,440.75 475.20,440.65 C475.87,440.55 476.58,439.70 477.20,439.70 C477.82,439.70 478.33,440.54 478.90,440.64 C479.47,440.75 480.03,440.25 480.60,440.33 C481.17,440.40 481.73,440.90 482.30,441.08 C482.87,441.27 483.43,441.21 484.00,441.46 C484.57,441.71 485.22,446.03 485.70,442.60 C486.18,439.17 486.30,427.75 486.90,420.90 C487.50,414.05 488.30,407.13 489.30,401.50 C490.30,395.87 491.48,392.32 492.90,387.10 C494.32,381.88 496.18,375.23 497.80,370.20 C499.42,365.17 501.00,361.73 502.60,356.90 C504.20,352.07 505.45,347.02 507.40,341.20 C509.35,335.38 513.15,325.20 514.30,322.00 C514.48,324.00 515.22,332.00 515.40,334.00 C515.68,341.23 516.62,366.15 517.10,377.40 C517.58,388.65 517.50,395.87 518.30,401.50 C519.10,407.13 520.30,407.57 521.90,411.20 C523.50,414.83 525.68,419.88 527.90,423.30 C530.12,426.72 533.68,430.17 535.20,431.70 C536.72,433.23 536.40,431.95 537.00,432.48 C537.60,433.02 538.20,434.42 538.80,434.92 C539.40,435.41 540.00,435.05 540.60,435.45 C541.20,435.85 541.80,437.14 542.40,437.30 C543.00,437.46 543.60,436.72 544.20,436.38 C544.80,436.05 545.36,435.43 546.00,435.30 C546.64,435.17 547.36,435.57 548.03,435.63 C548.71,435.69 549.39,435.52 550.07,435.67 C550.74,435.81 551.36,436.00 552.10,436.50 C552.84,437.00 553.70,438.06 554.50,438.67 C555.30,439.29 556.22,440.07 556.90,440.20 C557.58,440.33 558.02,439.49 558.58,439.44 C559.14,439.40 559.70,440.00 560.26,439.92 C560.82,439.84 561.38,439.08 561.94,438.94 C562.50,438.81 563.06,439.12 563.62,439.13 C564.18,439.14 564.75,438.89 565.30,439.00 C565.85,439.11 566.39,439.45 566.93,439.80 C567.48,440.14 568.02,440.61 568.57,441.08 C569.11,441.54 569.93,442.35 570.20,442.60 " fill="none" stroke="#111" stroke-width="2.45" stroke-linejoin="round" stroke-linecap="round"/>
<path d="M45.6,494.8 C46.5,494.3 47.3,500 47.8,512 L49.7,539.8 L51.2,535.5 C53.15,550.92 56.20,586.10 57.70,586.90 C58.80,586.60 60.00,500.84 60.80,489.10 C61.30,490.10 62.60,511.84 63.20,531.40 L64.90,527.30 C66.85,541.55 69.90,574.00 71.40,574.80 C72.50,574.50 73.80,491.99 74.60,480.70 C75.10,481.70 76.40,510.18 77.00,529.00 L78.70,527.30 C80.71,542.63 83.90,577.60 85.40,578.40 C86.50,578.10 87.50,499.82 88.30,489.10 C88.80,490.10 90.40,520.74 91.00,538.60 L92.70,536.20 C94.65,554.53 97.70,596.50 99.20,597.30 C100.30,597.00 101.10,522.32 101.90,512.10 C102.40,513.10 104.20,544.46 104.80,561.50 L106.30,554.80 C108.22,568.42 111.20,599.40 112.70,600.20 C113.80,599.90 115.10,512.64 115.90,500.70 C116.40,501.70 118.40,529.60 119.00,549.50 L120.70,544.70 C122.65,559.88 125.70,594.50 127.20,595.30 C128.30,595.00 128.80,507.21 129.60,495.20 C130.10,496.20 132.20,523.38 132.80,543.40 L134.40,537.40 C136.29,552.46 139.20,586.80 140.70,587.60 C141.80,587.30 142.80,504.18 143.60,492.80 C144.10,493.80 145.90,517.24 146.50,536.20 L148.00,530.20 C149.95,544.66 153.00,577.60 154.50,578.40 C155.60,578.10 156.10,494.54 156.90,483.10 C157.40,484.10 159.40,509.94 160.00,529.00 L161.70,526.50 C163.71,541.83 166.90,576.80 168.40,577.60 C169.50,577.30 170.20,497.61 171.00,486.70 C171.50,487.70 173.30,515.62 173.90,533.80 L175.40,531.40 C177.50,549.49 180.90,590.90 182.40,591.70 C183.50,591.40 184.00,519.54 184.80,509.70 C185.30,510.70 187.30,541.50 187.90,557.90 L189.10,550.70 C191.14,565.55 194.40,599.40 195.90,600.20 C197.00,599.90 198.00,517.74 198.80,506.50 C199.30,507.50 201.80,537.96 202.40,556.70 L203.60,549.00 C205.55,562.89 208.60,594.50 210.10,595.30 C211.20,595.00 212.00,507.21 212.80,495.20 C213.30,496.20 215.60,524.68 216.20,544.70 L217.60,536.90 C219.55,552.62 222.60,588.50 224.10,589.30 C225.20,589.00 226.20,504.38 227.00,492.80 C227.50,493.80 229.30,519.70 229.90,539.00 L231.60,533.80 C233.46,547.33 236.30,578.10 237.80,578.90 C238.90,578.60 239.90,495.21 240.70,483.80 C241.20,484.80 243.20,509.98 243.80,529.00 L245.50,527.30 C247.33,542.27 250.10,576.40 251.60,577.20 C252.70,576.90 253.60,493.78 254.40,482.40 C254.90,483.40 257.00,510.04 257.60,529.00 L258.80,527.30 C260.84,544.82 264.10,584.90 265.60,585.70 C266.70,585.40 267.20,513.01 268.00,503.10 C268.50,504.10 270.30,531.78 270.90,548.30 L272.60,545.90 C274.61,562.04 277.80,598.90 279.30,599.70 C280.40,599.40 281.40,523.67 282.20,513.30 C282.70,514.30 284.30,545.52 284.90,562.80 L286.40,554.50 C288.38,567.10 291.50,595.70 293.00,596.50 C294.10,596.20 295.10,506.65 295.90,494.40 C296.40,495.40 298.40,524.28 299.00,544.70 L300.70,539.80 C302.65,554.65 305.70,588.50 307.20,589.30 C308.30,589.00 309.10,505.00 309.90,493.50 C310.40,494.50 312.60,520.64 313.20,539.80 L314.70,535.00 C316.65,549.49 319.70,582.50 321.20,583.30 C322.30,583.00 322.80,498.73 323.60,487.20 C324.10,488.20 325.90,510.98 326.50,530.20 L328.40,526.50 C330.38,541.35 333.50,575.20 335.00,576.00 C336.10,575.70 336.80,492.75 337.60,481.40 C338.10,482.40 339.90,510.08 340.50,529.00 L342.20,526.50 C344.24,542.82 347.50,580.10 349.00,580.90 C350.10,580.60 351.05,504.78 351.85,494.40 C352.35,495.40 354.10,527.40 354.70,544.70 L356.30,538.60 C358.34,557.80 361.60,601.80 363.10,602.60 C364.20,602.30 364.70,522.96 365.50,512.10 C366.00,513.10 368.10,545.40 368.70,563.50 L370.30,555.50 C372.28,568.91 375.40,599.40 376.90,600.20 C378.00,599.90 379.20,510.53 380.00,498.30 C380.50,499.30 382.30,529.12 382.90,549.50 L384.30,542.20 C386.28,557.77 389.40,593.30 390.90,594.10 C392.00,593.80 393.20,506.36 394.00,494.40 C394.50,495.40 396.30,522.26 396.90,542.20 L398.60,535.00 C400.61,551.29 403.80,588.50 405.30,589.30 C406.40,589.00 407.20,502.88 408.00,491.10 C408.50,492.10 410.60,515.36 411.20,535.00 L412.70,529.00 C414.74,543.70 418.00,577.20 419.50,578.00 C420.60,577.70 421.10,493.87 421.90,482.40 C422.40,483.40 424.20,509.88 424.80,529.00 L426.70,526.50 C428.74,542.22 432.00,578.10 433.50,578.90 C434.60,578.60 435.10,501.64 435.90,491.10 C436.40,492.10 438.20,522.24 438.80,539.80 L440.50,536.20 C442.51,555.04 445.70,598.20 447.20,599.00 C448.30,598.70 449.30,523.14 450.10,512.80 C450.60,513.80 452.20,546.76 452.80,564.00 L454.50,555.50 C456.45,569.27 459.50,600.60 461.00,601.40 C462.10,601.10 463.30,511.55 464.10,499.30 C464.60,500.30 466.40,530.98 467.00,551.40 L468.30,544.70 C470.31,560.24 473.50,595.70 475.00,596.50 C476.10,596.20 477.50,507.36 478.30,495.20 C478.80,496.20 480.60,524.44 481.20,544.70 L482.60,537.40 C484.55,553.33 487.60,589.70 489.10,590.50 C490.20,590.20 491.20,505.58 492.00,494.00 C492.50,495.00 494.60,519.30 495.20,538.60 L496.40,533.80 C498.41,548.29 501.60,581.30 503.10,582.10 C504.20,581.80 505.20,496.48 506.00,484.80 C506.50,485.80 508.60,510.74 509.20,530.20 L510.90,528.20 C512.76,544.01 515.60,580.10 517.10,580.90 C518.20,580.60 519.10,499.06 519.90,487.90 C520.40,488.90 522.30,519.40 522.90,538.00 L524.60,534.40 C526.52,552.67 529.50,594.50 531.00,595.30 C532.10,595.00 533.00,518.83 533.80,508.40 C534.30,509.40 536.10,544.12 536.70,561.50 L538.40,554.30 C540.29,569.15 543.20,603.00 544.70,603.80 C545.80,603.50 546.80,514.57 547.60,502.40 C548.10,503.40 550.10,536.42 550.70,556.70 L552.40,550.00 C554.20,564.46 556.90,597.40 558.40,598.20 C559.50,597.90 561.30,506.06 562.10,493.50 C562.60,494.50 564.40,526.16 565.00,547.10 L566.40,541.80 L570,574.8" fill="none" stroke="#c42a1f" stroke-width="2.5" stroke-linejoin="round" stroke-linecap="round"/>
</svg>
</body></html>
